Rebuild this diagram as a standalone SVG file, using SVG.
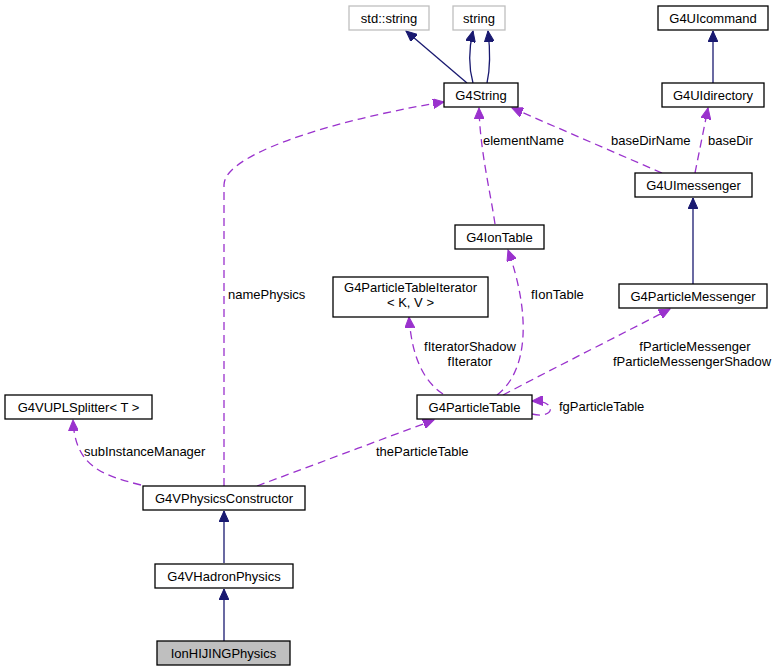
<svg xmlns="http://www.w3.org/2000/svg" width="779" height="672" viewBox="0 0 779 672">
<style>
  .box { fill: #ffffff; stroke: #000000; stroke-width: 1.3; }
  .gbox { fill: #ffffff; stroke: #bfbfbf; stroke-width: 1.3; }
  .cur { fill: #bfbfbf; stroke: #000000; stroke-width: 1.3; }
  .t { font-family: "Liberation Sans", Arial, sans-serif; font-size: 13px; fill: #000000; text-anchor: middle; }
  .l { font-family: "Liberation Sans", Arial, sans-serif; font-size: 13px; fill: #000000; }
  .inh { fill: none; stroke: #191970; stroke-width: 1.3; marker-end: url(#an); }
  .use { fill: none; stroke: #9a32cd; stroke-width: 1.3; stroke-dasharray: 8,5; marker-end: url(#ap); }
</style>
<defs>
  <marker id="an" markerUnits="userSpaceOnUse" markerWidth="12" markerHeight="10" refX="11" refY="5" orient="auto">
    <path d="M0,0 L11,5 L0,10 z" fill="#191970" stroke="#191970" stroke-width="1"/>
  </marker>
  <marker id="ap" markerUnits="userSpaceOnUse" markerWidth="12" markerHeight="10" refX="11" refY="5" orient="auto">
    <path d="M0,0 L11,5 L0,10 z" fill="#9a32cd" stroke="#9a32cd" stroke-width="1"/>
  </marker>
</defs>
<rect width="779" height="672" fill="#ffffff"/>

<g id="connectors">
  <path class="inh" d="M467,83 L406,31"/>
  <path class="inh" d="M473,83 C468,65 469,48 473,31"/>
  <path class="inh" d="M487,83 C491,65 490,48 488,31"/>
  <path class="inh" d="M713,83 L713,31"/>
  <path class="inh" d="M693,284 L693,198"/>
  <path class="inh" d="M224,563 L224,511"/>
  <path class="inh" d="M224,641 L224,589"/>

  <path class="use" d="M224,486 L224,185 C224,150 360,115 444,102"/>
  <path class="use" d="M495,224 C490,190 480,150 479,108"/>
  <path class="use" d="M662,173 L512,108"/>
  <path class="use" d="M695,173 L708,108"/>
  <path class="use" d="M497,395 C527,372 532,318 508,250"/>
  <path class="use" d="M443,394 C425,382 412,360 409,317"/>
  <path class="use" d="M503,395 C560,365 620,335 670,309"/>
  <path class="use" d="M532,414 C555,420 558,400 532,401"/>
  <path class="use" d="M257,486 C300,470 380,440 434,420"/>
  <path class="use" d="M141,485 C100,475 75,465 73,420"/>

  <text class="l" x="228" y="299">namePhysics</text>
  <text class="l" x="483" y="145">elementName</text>
  <text class="l" x="611" y="145">baseDirName</text>
  <text class="l" x="708" y="145">baseDir</text>
  <text class="l" x="531" y="299">fIonTable</text>
  <text class="t" x="470" y="351">fIteratorShadow</text>
  <text class="t" x="470" y="366">fIterator</text>
  <text class="t" x="695" y="351">fParticleMessenger</text>
  <text class="t" x="692" y="366">fParticleMessengerShadow</text>
  <text class="l" x="559" y="411">fgParticleTable</text>
  <text class="l" x="376" y="456">theParticleTable</text>
  <text class="l" x="84" y="456">subInstanceManager</text>
</g>

<g id="node-stdstring"><rect class="gbox" x="349" y="6" width="80" height="24"/><text class="t" x="389" y="22.5">std::string</text></g>
<g id="node-string"><rect class="gbox" x="453" y="6" width="52" height="24"/><text class="t" x="479" y="22.5">string</text></g>
<g id="node-G4String"><rect class="box" x="444" y="83" width="74" height="24"/><text class="t" x="481" y="99.5">G4String</text></g>
<g id="node-G4UIcommand"><rect class="box" x="658" y="6" width="110" height="24"/><text class="t" x="713" y="22.5">G4UIcommand</text></g>
<g id="node-G4UIdirectory"><rect class="box" x="662" y="83" width="102" height="24"/><text class="t" x="713" y="99.5">G4UIdirectory</text></g>
<g id="node-G4UImessenger"><rect class="box" x="635" y="173" width="117" height="24"/><text class="t" x="693.5" y="189.5">G4UImessenger</text></g>
<g id="node-G4IonTable"><rect class="box" x="455" y="225" width="89" height="24"/><text class="t" x="499.5" y="241.5">G4IonTable</text></g>
<g id="node-G4ParticleTableIterator"><rect class="box" x="333" y="277" width="155" height="40"/><text class="t" x="410.5" y="292">G4ParticleTableIterator</text><text class="t" x="410.5" y="307">&lt; K, V &gt;</text></g>
<g id="node-G4ParticleMessenger"><rect class="box" x="619" y="284" width="148" height="24"/><text class="t" x="693" y="300.5">G4ParticleMessenger</text></g>
<g id="node-G4ParticleTable"><rect class="box" x="417" y="395" width="115" height="24"/><text class="t" x="474.5" y="411.5">G4ParticleTable</text></g>
<g id="node-G4VUPLSplitter"><rect class="box" x="5" y="395" width="147" height="24"/><text class="t" x="78.5" y="411.5">G4VUPLSplitter&lt; T &gt;</text></g>
<g id="node-G4VPhysicsConstructor"><rect class="box" x="143" y="486" width="162" height="24"/><text class="t" x="224" y="502.5">G4VPhysicsConstructor</text></g>
<g id="node-G4VHadronPhysics"><rect class="box" x="155" y="564" width="138" height="24"/><text class="t" x="224" y="580.5">G4VHadronPhysics</text></g>
<g id="node-IonHIJINGPhysics"><rect class="cur" x="157" y="641" width="133" height="24"/><text class="t" x="223.5" y="657.5">IonHIJINGPhysics</text></g>
</svg>
